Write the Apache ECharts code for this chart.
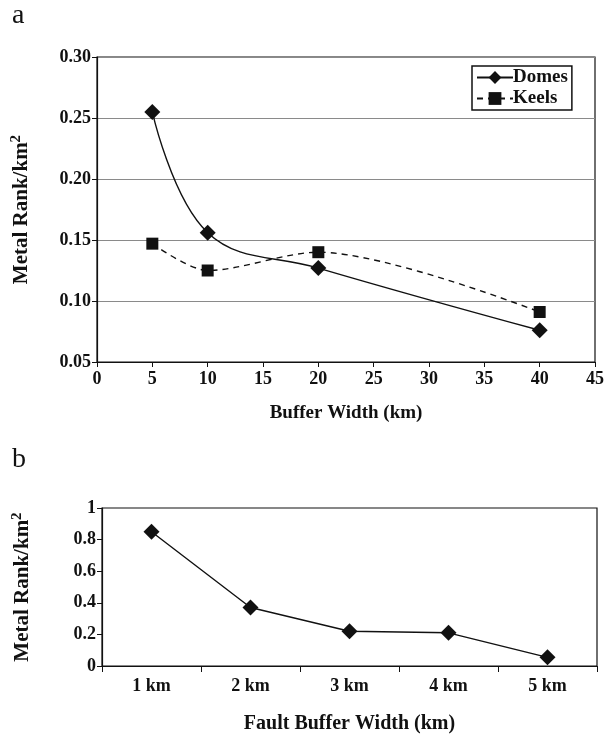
<!DOCTYPE html>
<html>
<head>
<meta charset="utf-8">
<script src="https://cdn.jsdelivr.net/npm/echarts@6/dist/echarts.min.js"></script>
<style>
html,body{margin:0;padding:0;background:#fff;}
#main{width:607px;height:736px;}
</style>
</head>
<body>
<div id="main"></div>
<script>
// Panel a data
const bufferWidthKm = [5, 10, 20, 40];
const domesValues = [0.255, 0.156, 0.127, 0.076];
const keelsValues = [0.147, 0.125, 0.140, 0.091];
const xTicksA = [0, 45, 5];       // min, max, interval
const yTicksA = [0.05, 0.30, 0.05];

// Panel b data
const faultCategories = ['1 km', '2 km', '3 km', '4 km', '5 km'];
const faultValues = [0.85, 0.37, 0.22, 0.21, 0.055];
const yTicksB = [0, 1, 0.2];

const FONT = '"Liberation Serif", "Times New Roman", serif';
const ink = '#111';

const chart = echarts.init(document.getElementById('main'), null, {renderer: 'canvas'});

const axisNameRich = {
  n: {fontFamily: FONT, fontWeight: 'bold', fontSize: 21, color: ink},
  s: {fontFamily: FONT, fontWeight: 'bold', fontSize: 15, color: ink, verticalAlign: 'top', padding: [0, 0, 11, 0]}
};

const option = {
  animation: false,
  backgroundColor: '#fff',
  graphic: [
    {type: 'text', left: 12, top: 2, style: {text: 'a', font: '28px ' + FONT, fill: ink}},
    {type: 'text', left: 12, top: 446, style: {text: 'b', font: '28px ' + FONT, fill: ink}}
  ],
  legend: {
    show: true,
    data: ['Domes', 'Keels'],
    orient: 'vertical',
    left: 472,
    top: 66,
    padding: [2, 4, 2, 4],
    itemGap: 2,
    itemWidth: 36,
    itemHeight: 16,
    borderColor: ink,
    borderWidth: 1.5,
    textStyle: {fontFamily: FONT, fontWeight: 'bold', fontSize: 19, color: ink, padding: [0, 0, 0, -5]},
    itemStyle: {color: ink}
  },
  grid: [
    {left: 97, right: 10, top: 57, height: 305, show: true, borderColor: ink, borderWidth: 1.2, containLabel: false},
    {left: 102, right: 10, top: 508, height: 158, show: true, borderColor: ink, borderWidth: 1.2, containLabel: false}
  ],
  xAxis: [
    {
      type: 'value', gridIndex: 0,
      min: xTicksA[0], max: xTicksA[1], interval: xTicksA[2],
      axisLine: {lineStyle: {color: ink, width: 1.2}},
      axisTick: {show: true, inside: false, length: 5, lineStyle: {color: ink}},
      splitLine: {show: false},
      axisLabel: {fontFamily: FONT, fontWeight: 'bold', fontSize: 18, color: ink, margin: 8},
      name: 'Buffer Width (km)', nameLocation: 'middle', nameGap: 42,
      nameTextStyle: {fontFamily: FONT, fontWeight: 'bold', fontSize: 19, color: ink}
    },
    {
      type: 'category', gridIndex: 1, data: faultCategories, boundaryGap: true,
      axisLine: {lineStyle: {color: ink, width: 1.2}},
      axisTick: {show: true, inside: false, length: 6, alignWithLabel: false, lineStyle: {color: ink}},
      splitLine: {show: false},
      axisLabel: {fontFamily: FONT, fontWeight: 'bold', fontSize: 18, color: ink, margin: 11},
      name: 'Fault Buffer Width (km)', nameLocation: 'middle', nameGap: 48,
      nameTextStyle: {fontFamily: FONT, fontWeight: 'bold', fontSize: 20, color: ink}
    }
  ],
  yAxis: [
    {
      type: 'value', gridIndex: 0,
      min: yTicksA[0], max: yTicksA[1], interval: yTicksA[2],
      axisLine: {show: true, lineStyle: {color: ink, width: 1.2}},
      axisTick: {show: true, inside: false, length: 5, lineStyle: {color: ink}},
      splitLine: {show: true, lineStyle: {color: '#8a8a8a', width: 1}},
      axisLabel: {fontFamily: FONT, fontWeight: 'bold', fontSize: 18, color: ink, margin: 6,
        formatter: v => v.toFixed(2)},
      name: '{n|Metal Rank/km}{s|2}', nameLocation: 'middle', nameGap: 62, nameRotate: 90,
      nameTextStyle: {rich: axisNameRich}
    },
    {
      type: 'value', gridIndex: 1,
      min: yTicksB[0], max: yTicksB[1], interval: yTicksB[2],
      axisLine: {show: true, lineStyle: {color: ink, width: 1.2}},
      axisTick: {show: true, inside: false, length: 5, lineStyle: {color: ink}},
      splitLine: {show: false},
      axisLabel: {fontFamily: FONT, fontWeight: 'bold', fontSize: 18, color: ink, margin: 6,
        formatter: v => (Math.round(v * 10) / 10).toString()},
      name: '{n|Metal Rank/km}{s|2}', nameLocation: 'middle', nameGap: 66, nameRotate: 90,
      nameTextStyle: {rich: axisNameRich}
    }
  ],
  series: [
    {
      name: 'Domes', type: 'line', xAxisIndex: 0, yAxisIndex: 0,
      data: bufferWidthKm.map((x, i) => [x, domesValues[i]]),
      smooth: 0.4,
      symbol: 'diamond', symbolSize: 16,
      lineStyle: {color: ink, width: 1.4, type: 'solid'},
      itemStyle: {color: ink}
    },
    {
      name: 'Keels', type: 'line', xAxisIndex: 0, yAxisIndex: 0,
      data: bufferWidthKm.map((x, i) => [x, keelsValues[i]]),
      smooth: 0.3,
      symbol: 'rect', symbolSize: 12,
      lineStyle: {color: ink, width: 1.4, type: [6, 5]},
      itemStyle: {color: ink}
    },
    {
      name: 'Fault', type: 'line', xAxisIndex: 1, yAxisIndex: 1,
      data: faultValues,
      smooth: false,
      symbol: 'diamond', symbolSize: 16,
      lineStyle: {color: ink, width: 1.4},
      itemStyle: {color: ink}
    }
  ]
};
chart.setOption(option);
</script>
</body>
</html>
